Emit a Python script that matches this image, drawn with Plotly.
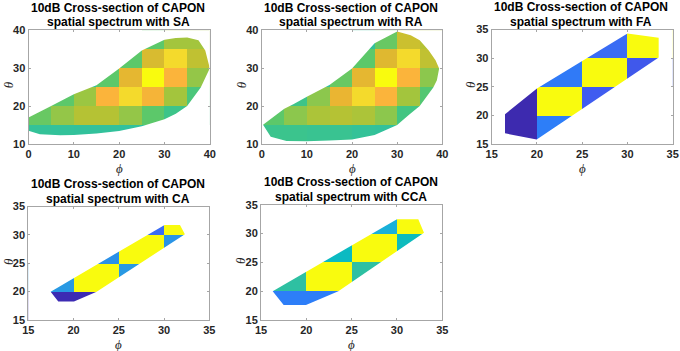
import plotly.graph_objects as go

# ---------------- data (normalised CAPON spectrum level per 5x5 deg cell) ----------------
# SA / RA : phi 0..40, theta 10..40
SA_phi = [2.5, 7.5, 12.5, 17.5, 22.5, 27.5, 32.5, 37.5]
SA_theta = [12.5, 17.5, 22.5, 27.5, 32.5, 37.5]
SA_level = [
    [0.63, 0.625, 0.62, 0.62, 0.615, 0.61, None, None],
    [0.70, 0.74, 0.78, 0.78, 0.74, 0.69, 0.65, 0.65],
    [0.69, 0.69, 0.75, 0.88, 0.94, 0.87, 0.76, 0.67],
    [None, None, 0.62, 0.69, 0.84, 1.00, 0.88, 0.74],
    [None, None, None, None, 0.69, 0.82, 0.94, 0.79],
    [None, None, None, None, None, 0.69, 0.76, 0.76],
]
SA_edge_phi = [0, 0, 5, 10, 15, 20, 25, 30, 32.5, 35, 37.5, 39, 40, 38, 35, 32.5, 30, 25, 20, 15, 10, 7, 2.5]
SA_edge_theta = [13.5, 17.0, 20.0, 23.1, 25.5, 29.9, 34.7, 37.5, 38.0, 38.1, 37.4, 34.7, 30.0, 24.9, 20.0, 18.0, 16.5, 14.7, 13.4, 12.8, 12.4, 12.3, 12.6]

RA_phi = [2.5, 7.5, 12.5, 17.5, 22.5, 27.5, 32.5, 37.5]
RA_theta = [12.5, 17.5, 22.5, 27.5, 32.5, 37.5]
RA_level = [
    [0.645, 0.645, 0.64, 0.64, 0.63, 0.62, None, None],
    [0.69, 0.73, 0.77, 0.78, 0.77, 0.73, 0.66, 0.66],
    [None, 0.65, 0.73, 0.85, 0.94, 0.88, 0.76, 0.68],
    [None, None, 0.62, 0.70, 0.84, 1.00, 0.88, 0.73],
    [None, None, None, None, 0.69, 0.83, 0.94, 0.79],
    [None, None, None, None, 0.62, 0.70, 0.80, 0.78],
]
RA_edge_phi = [0.3, 5, 7, 10, 15, 20, 25, 30, 33, 35, 37, 38.5, 39.3, 38.8, 38, 35, 32.5, 30, 25, 20, 15, 10, 5.5, 2]
RA_edge_theta = [15.1, 19.3, 20.5, 22.5, 25.6, 29.9, 36.6, 39.7, 38.7, 37.4, 34.7, 32.1, 29.9, 26.8, 24.9, 20.0, 17.6, 15.0, 12.4, 11.2, 10.9, 10.7, 10.8, 11.9]

# FA / CA / CCA : phi 15..35, theta 15..35
FA_phi = [17.5, 22.5, 27.5, 32.5]
FA_theta = [17.5, 22.5, 27.5, 32.5]
FA_level = [
    [0.02, 0.23, None, None],
    [0.02, 1.00, 0.15, None],
    [None, 0.22, 1.00, 0.14],
    [None, None, 0.19, 1.00],
]
FA_edge_phi = [16.47, 16.47, 19.97, 33.45, 33.45, 30.0, 20.0]
FA_edge_theta = [20.2, 16.86, 15.8, 30.1, 33.55, 34.3, 24.7]

CA_phi = [17.5, 22.5, 27.5, 32.5]
CA_theta = [17.5, 22.5, 27.5, 32.5]
CA_level = [
    [0.03, 0.03, None, None],
    [0.34, 1.00, 0.34, None],
    [None, 0.31, 1.00, 0.32],
    [None, None, 0.19, 1.00],
]
CA_edge_phi = [17.47, 18.31, 20.05, 22.55, 32.3, 31.76, 30.06]
CA_edge_theta = [20.0, 18.24, 18.24, 20.0, 30.1, 31.76, 31.76]

CCA_phi = [17.5, 22.5, 27.5, 32.5]
CCA_theta = [17.5, 22.5, 27.5, 32.5]
CCA_level = [
    [0.23, 0.23, None, None],
    [0.60, 1.00, 0.60, None],
    [None, 0.48, 1.00, 0.50],
    [None, None, 0.42, 1.00],
]
CCA_edge_phi = [16.29, 17.5, 19.96, 23.53, 32.98, 32.35, 30.0]
CCA_edge_theta = [20.0, 17.6, 17.6, 20.0, 30.16, 32.5, 32.5]

TITLES = ["SA", "RA", "FA", "CA", "CCA"]
TICKS_WIDE_X = [0, 10, 20, 30, 40]
TICKS_WIDE_Y = [10, 20, 30, 40]
TICKS_NARROW = [15, 20, 25, 30, 35]

# parula-like colour scale
PARULA = [
    [0.00, "#3E26A8"], [0.04, "#3B2DB6"], [0.10, "#4246D8"], [0.15, "#3F5CF0"],
    [0.19, "#3A6CF4"], [0.23, "#2D7EF8"], [0.33, "#2A96E4"], [0.42, "#1AB0D9"],
    [0.48, "#0BBAC2"], [0.55, "#14BDB2"], [0.60, "#2EC0A2"], [0.63, "#34C298"],
    [0.66, "#42C582"], [0.69, "#5CC86A"], [0.73, "#8CC74D"], [0.76, "#A3C53D"],
    [0.78, "#B5C234"], [0.80, "#CBC02F"], [0.83, "#DFB830"], [0.85, "#EAB532"],
    [0.88, "#FBB43B"], [0.94, "#F4DA2C"], [1.00, "#F9FB0E"],
]

W, H = 680, 351
# plot boxes in pixels: (left, right, top, bottom)
BOX = [
    (28.5, 209.8, 30.3, 144.0),
    (261.7, 442.3, 30.3, 144.0),
    (491.7, 672.7, 29.5, 144.0),
    (28.3, 209.3, 206.5, 320.0),
    (261.0, 442.3, 204.8, 320.0),
]

panels = [
    (SA_phi, SA_theta, SA_level, SA_edge_phi, SA_edge_theta, [0, 40], [10, 40], TICKS_WIDE_X, TICKS_WIDE_Y),
    (RA_phi, RA_theta, RA_level, RA_edge_phi, RA_edge_theta, [0, 40], [10, 40], TICKS_WIDE_X, TICKS_WIDE_Y),
    (FA_phi, FA_theta, FA_level, FA_edge_phi, FA_edge_theta, [15, 35], [15, 35], TICKS_NARROW, TICKS_NARROW),
    (CA_phi, CA_theta, CA_level, CA_edge_phi, CA_edge_theta, [15, 35], [15, 35], TICKS_NARROW, TICKS_NARROW),
    (CCA_phi, CCA_theta, CCA_level, CCA_edge_phi, CCA_edge_theta, [15, 35], [15, 35], TICKS_NARROW, TICKS_NARROW),
]


def signed_area(xs, ys):
    s = 0.0
    n = len(xs)
    for i in range(n):
        j = (i + 1) % n
        s += xs[i] * ys[j] - xs[j] * ys[i]
    return s / 2


fig = go.Figure()
layout = dict(
    width=W, height=H, margin=dict(l=0, r=0, t=0, b=0, autoexpand=False),
    paper_bgcolor="white", plot_bgcolor="white", showlegend=False,
)
annotations = []
tick_font = dict(family="Liberation Sans, Arial", size=11, color="#262626", weight="bold")
sym_font = dict(family="Liberation Serif, Times New Roman", size=13, color="#262626")
title_font = dict(family="Liberation Sans, Arial", size=12, color="black", weight="bold")

for k, (px, py, z, ex, ey, xr, yr, xt, yt) in enumerate(panels):
    sfx = "" if k == 0 else str(k + 1)
    xa, ya = "x" + sfx, "y" + sfx
    fig.add_trace(go.Heatmap(
        x=px, y=py, z=z, colorscale=PARULA, zmin=0, zmax=1, showscale=False,
        hoverinfo="skip", xaxis=xa, yaxis=ya, zsmooth=False,
    ))
    # white mask outside the 10 dB contour
    ox = [xr[0] - 50, xr[1] + 50, xr[1] + 50, xr[0] - 50]
    oy = [yr[0] - 50, yr[0] - 50, yr[1] + 50, yr[1] + 50]
    bx, by = list(ex), list(ey)
    if (signed_area(ox, oy) > 0) == (signed_area(bx, by) > 0):
        bx, by = bx[::-1], by[::-1]
    mx = ox + [ox[0], None] + bx + [bx[0]]
    my = oy + [oy[0], None] + by + [by[0]]
    fig.add_trace(go.Scatter(
        x=mx, y=my, mode="lines", fill="toself", fillcolor="white",
        line=dict(width=0, color="white"), hoverinfo="skip", xaxis=xa, yaxis=ya,
        connectgaps=False,
    ))
    l, r, t, b = BOX[k]
    axis_common = dict(
        showline=True, linecolor="#a6a6a6", linewidth=1, mirror="allticks",
        ticks="inside", ticklen=2, tickcolor="#a6a6a6", tickwidth=1,
        showgrid=False, zeroline=False, tickfont=tick_font, fixedrange=True,
        automargin=False,
    )
    layout["xaxis" + sfx] = dict(axis_common, domain=[l / W, r / W], range=xr,
                                  tickvals=xt, anchor=ya)
    layout["yaxis" + sfx] = dict(axis_common, domain=[1 - b / H, 1 - t / H], range=yr,
                                  tickvals=yt, anchor=xa)
    cx = (l + r) / 2
    annotations.append(dict(
        text="10dB Cross-section of CAPON", x=(cx - 1) / W, y=1 - (t - 22.5) / H,
        xref="paper", yref="paper", xanchor="center", yanchor="middle",
        showarrow=False, font=title_font, borderpad=0,
    ))
    annotations.append(dict(
        text="spatial spectrum with " + TITLES[k], x=(cx - 1) / W, y=1 - (t - 8) / H,
        xref="paper", yref="paper", xanchor="center", yanchor="middle",
        showarrow=False, font=title_font, borderpad=0,
    ))
    annotations.append(dict(
        text="<i>ϕ</i>", x=cx / W, y=1 - (b + 24.5) / H, xref="paper", yref="paper",
        xanchor="center", yanchor="middle", showarrow=False, font=sym_font, borderpad=0,
    ))
    annotations.append(dict(
        text="<i>θ</i>", x=(l - 20.5) / W, y=1 - ((t + b) / 2 - 2) / H, xref="paper", yref="paper",
        xanchor="center", yanchor="middle", showarrow=False, font=sym_font, textangle=-90,
        borderpad=0,
    ))

layout["annotations"] = annotations
fig.update_layout(**layout)
fig.write_html("out.html")
